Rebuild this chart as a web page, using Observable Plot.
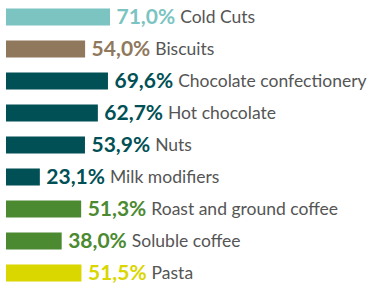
<!DOCTYPE html>
<html><head>
<meta charset="utf-8">
<script src="https://cdn.jsdelivr.net/npm/d3@7"></script>
<script src="https://cdn.jsdelivr.net/npm/@observablehq/plot@0.6"></script>
<style>body{margin:0;background:#fff}</style>
</head><body><div id="chart"></div>
<script>
const categories = ["Cold Cuts","Biscuits","Chocolate confectionery","Hot chocolate","Nuts","Milk modifiers","Roast and ground coffee","Soluble coffee","Pasta"];
const values = [71.0, 54.0, 69.6, 62.7, 53.9, 23.1, 51.3, 38.0, 51.5];
const colors = ["#7cc4c2","#8f785c","#005055","#005055","#005055","#005055","#4b8a30","#4b8a30","#d9d600"];
const pctLabels = values.map(v => v.toFixed(1).replace(".", ",") + "%");

const FONT = "Lato, 'Open Sans', sans-serif";
const pctSize = 21, labelSize = 17.5;
const ctx = document.createElement("canvas").getContext("2d");
ctx.font = `bold ${pctSize}px ${FONT}`;
const x0 = 6, pxPerUnit = 1.465, dxPct = 6, gap = 5;
const data = categories.map((c, i) => {
  const w = ctx.measureText(pctLabels[i]).width;
  return {cat: c, value: values[i], color: colors[i], pct: pctLabels[i],
          labelX: values[i] + (dxPct + w + gap) / pxPerUnit};
});

const chart = Plot.plot({
  width: 371, height: 283,
  margin: 0,
  style: {background: "#fff", fontFamily: FONT},
  x: {domain: [0, 100], range: [x0, x0 + 100 * pxPerUnit], axis: null},
  y: {domain: categories, range: [0.5, 289], padding: 0, axis: null},
  marks: [
    Plot.barX(data, {x: "value", y: "cat", fill: "color", insetTop: 7.5, insetBottom: 7.5}),
    Plot.text(data, {x: "value", y: "cat", text: "pct", fill: "color", textAnchor: "start", dx: dxPct, dy: 0, fontSize: pctSize, fontWeight: "bold"}),
    Plot.text(data, {x: "labelX", y: "cat", text: "cat", fill: "#555", textAnchor: "start", dy: 0, fontSize: labelSize})
  ]
});
document.getElementById("chart").append(chart);
</script>
</body></html>
